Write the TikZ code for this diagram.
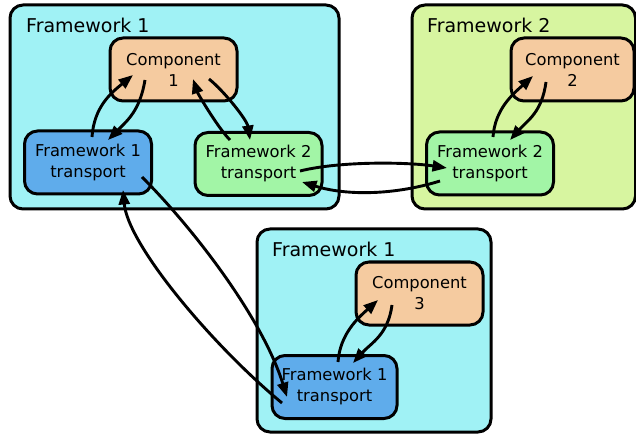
\documentclass[tikz,border=0pt]{standalone}
\usepackage{fontspec}
\setmainfont{DejaVu Sans}
\usetikzlibrary{arrows.meta,calc}

\definecolor{fwonebg}{RGB}{160,242,245}
\definecolor{fwtwobg}{RGB}{215,245,160}
\definecolor{compfill}{RGB}{245,203,160}
\definecolor{fwonetr}{RGB}{95,172,235}
\definecolor{fwtwotr}{RGB}{162,245,166}

\tikzset{
  cluster/.style={draw=black, line width=3pt, rounded corners=13pt},
  clusterlabel/.style={anchor=base west, inner sep=0pt, font=\fontsize{19}{23}\selectfont},
  box/.style={draw=black, line width=3pt, rounded corners=13pt, inner sep=0pt,
    minimum width=127pt, minimum height=63pt, align=center,
    font=\fontsize{16.3}{21}\selectfont},
  comp/.style={box, fill=compfill},
  tronestyle/.style={box, fill=fwonetr},
  trtwostyle/.style={box, fill=fwtwotr},
  edge/.style={line width=2.9pt, -{Triangle[length=14.5pt,width=11pt]}},
}

\begin{document}
\begin{tikzpicture}[x=1pt,y=-1pt]
\useasboundingbox (0,0) rectangle (636,435);

% clusters
\draw[cluster, fill=fwonebg] (10,5) rectangle (339,209);
\draw[cluster, fill=fwtwobg] (412,5) rectangle (635.5,209);
\draw[cluster, fill=fwonebg] (257,229) rectangle (491,432);
\node[clusterlabel] (la) at (26,33) {Framework 1};
\node[clusterlabel] (lb) at (427,33) {Framework 2};
\node[clusterlabel] (lc) at (272,257) {Framework 1};

% nodes
\node[comp] (c1) at (173.5,69.5) {Component\\1};
\node[comp, minimum width=123pt] (c2) at (572.5,69.5) {Component\\2};
\node[comp] (c3) at (419.5,293.5) {Component\\3};
\node[tronestyle] (fa) at (88,162.5) {Framework 1\\transport};
\node[trtwostyle] (ta) at (258.5,164) {Framework 2\\transport};
\node[trtwostyle] (tb) at (490,163.5) {Framework 2\\transport};
\node[tronestyle, minimum width=125pt] (fc) at (334.5,387) {Framework 1\\transport};

% component <-> transport, framework 1 (top)
\draw[edge] ($(fa)+(4,-25.5)$) .. controls +(2,-30) and +(-22,18) .. ($(c1)+(-40.5,5.5)$);
\draw[edge] ($(c1)+(-28.5,10.5)$) .. controls +(-5,30) and +(20,-20) .. ($(fa)+(20,-22.5)$);
\draw[edge] ($(ta)+(-28.5,-24)$) .. controls +(-12,-12) and +(5,15) .. ($(c1)+(19.5,9.5)$);
\draw[edge] ($(c1)+(35.5,9.5)$) .. controls +(15,12) and +(-3,-20) .. ($(ta)+(-8.5,-24)$);

% framework 2 transports
\draw[edge] ($(ta)+(41.5,7)$) .. controls +(40,-10) and +(-40,-6) .. ($(tb)+(-43,4.5)$);
\draw[edge] ($(tb)+(-50,17.5)$) .. controls +(-45,14) and +(45,14) .. ($(ta)+(43.5,18)$);

% component 2
\draw[edge] ($(tb)+(3,-26.5)$) .. controls +(2,-28) and +(-20,18) .. ($(c2)+(-39.5,6.5)$);
\draw[edge] ($(c2)+(-26.5,12.5)$) .. controls +(-4,30) and +(18,-20) .. ($(tb)+(20,-23.5)$);

% component 3
\draw[edge] ($(fc)+(3.5,-25)$) .. controls +(2,-28) and +(-20,18) .. ($(c3)+(-41.5,6.5)$);
\draw[edge] ($(c3)+(-27.5,11.5)$) .. controls +(-4,30) and +(18,-20) .. ($(fc)+(18.5,-24)$);

% framework 1 transports
\draw[edge] ($(fa)+(54,14.5)$) .. controls +(50,50) and +(-25,-80) .. ($(fc)+(-47.5,10)$);
\draw[edge] ($(fc)+(-52.5,16)$) .. controls +(-70,-58) and +(5,55) .. ($(fa)+(35,27.5)$);
\end{tikzpicture}
\end{document}
